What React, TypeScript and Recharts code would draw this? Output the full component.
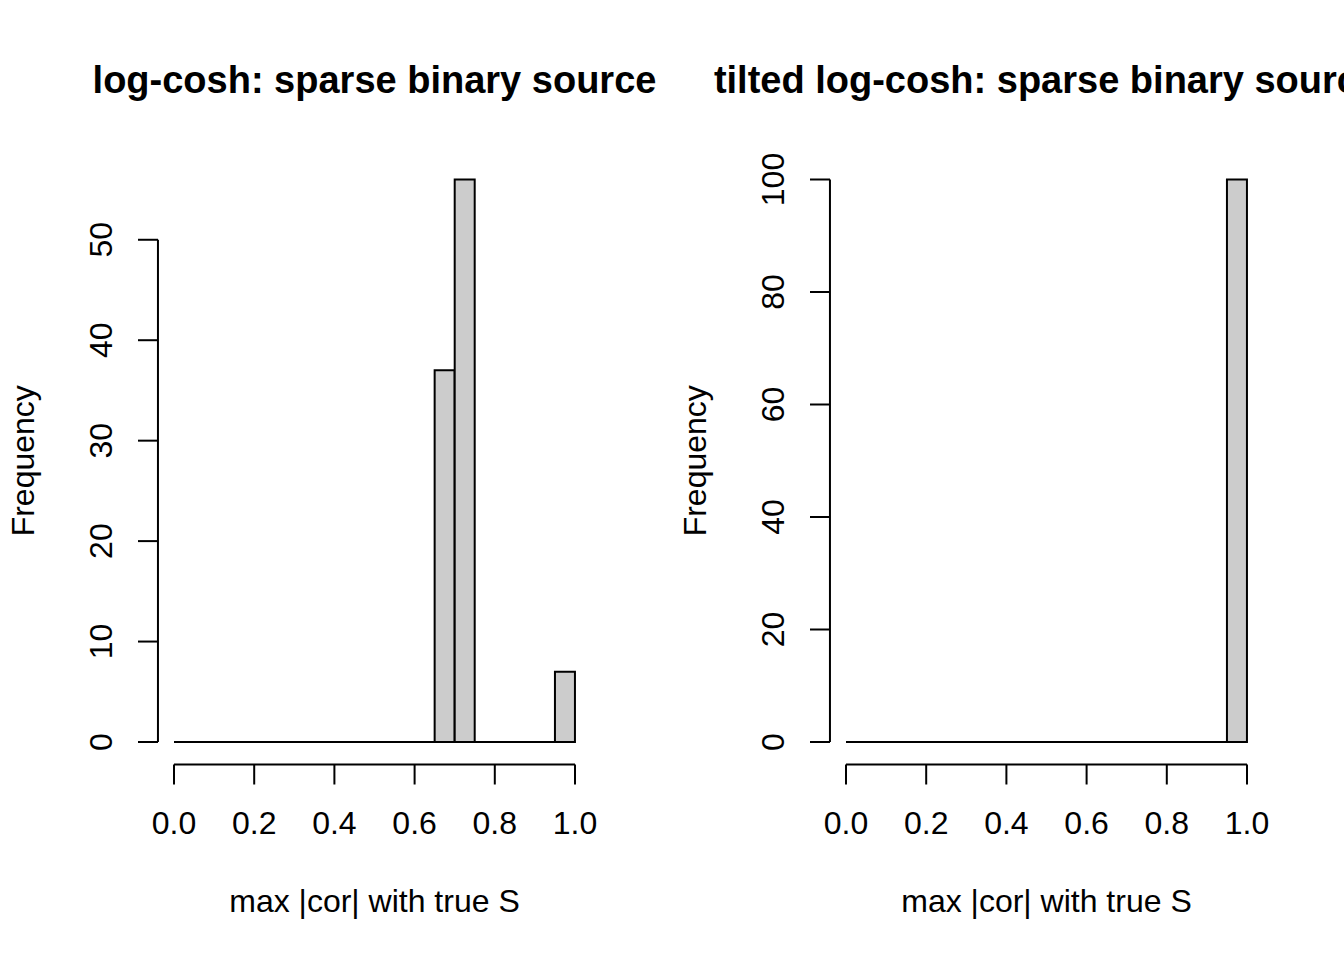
import {
  BarChart,
  Bar,
  XAxis,
  YAxis,
  ReferenceLine,
} from "recharts";

// histogram bins of width 0.05 on [0, 1]
const binStarts = [
  0, 0.05, 0.1, 0.15, 0.2, 0.25, 0.3, 0.35, 0.4, 0.45,
  0.5, 0.55, 0.6, 0.65, 0.7, 0.75, 0.8, 0.85, 0.9, 0.95,
];
const countsLogCosh = [0, 0, 0, 0, 0, 0, 0, 0, 0, 0, 0, 0, 0, 37, 56, 0, 0, 0, 0, 7];
const countsTilted = [0, 0, 0, 0, 0, 0, 0, 0, 0, 0, 0, 0, 0, 0, 0, 0, 0, 0, 0, 100];
const xTicks = [0, 0.2, 0.4, 0.6, 0.8, 1];
const yTicksLogCosh = [0, 10, 20, 30, 40, 50];
const yTicksTilted = [0, 20, 40, 60, 80, 100];

const FONT = "'Liberation Sans', Arial, Helvetica, sans-serif";
const W = 672;
const H = 960;

const YTick = (props: any) => {
  const { x, y, payload } = props;
  const tx = x - 24;
  return (
    <text
      x={tx}
      y={y}
      transform={`rotate(-90 ${tx} ${y})`}
      textAnchor="middle"
      fontSize={32}
      fontFamily={FONT}
      fill="#000"
    >
      {payload.value}
    </text>
  );
};

const XTick = (props: any) => {
  const { x, y, payload } = props;
  return (
    <text x={x} y={y + 47.5} textAnchor="middle" fontSize={32} fontFamily={FONT} fill="#000">
      {Number(payload.value).toFixed(1)}
    </text>
  );
};

interface PanelProps {
  title: string;
  counts: number[];
  yTicks: number[];
  yMax: number;
}

function Panel({ title, counts, yTicks, yMax }: PanelProps) {
  const data = binStarts.map((s, i) => ({ bin: String(s), start: s, count: counts[i] }));
  // R extends the axis ranges by 4% on each side
  const yPad = yMax * 0.04;
  const yDomain = [-yPad, yMax + yPad];
  const topTick = yTicks[yTicks.length - 1];

  return (
    <div style={{ position: "relative", width: W, height: H }}>
      <svg
        width={W}
        height={120}
        style={{ position: "absolute", left: 0, top: 0, overflow: "visible" }}
      >
        <text x={374.5} y={93} textAnchor="middle" fontSize={38} fontWeight="bold" fontFamily={FONT} fill="#000">
          {title}
        </text>
      </svg>
      <BarChart
        width={W}
        height={H}
        data={data}
        margin={{ top: 157, right: 81, left: 0, bottom: 0 }}
        barCategoryGap={0}
        barGap={0}
        style={{ position: "absolute", left: 0, top: 0 }}
      >
        <XAxis xAxisId="bins" dataKey="bin" hide height={0} padding={{ left: 16, right: 16 }} />
        <XAxis
          xAxisId="num"
          dataKey="start"
          type="number"
          domain={[0, 1]}
          allowDataOverflow
          ticks={xTicks}
          padding={{ left: 16, right: 16 }}
          height={195.5}
          axisLine={false}
          tickSize={20}
          tickLine={{ stroke: "#000", strokeWidth: 2 }}
          tick={<XTick />}
          label={(p: any) => (
            <text
              x={p.viewBox.x + p.viewBox.width / 2}
              y={912}
              textAnchor="middle"
              fontSize={32}
              fontFamily={FONT}
              fill="#000"
            >
              max |cor| with true S
            </text>
          )}
        />
        <YAxis
          width={158}
          type="number"
          domain={yDomain}
          allowDataOverflow
          ticks={yTicks}
          interval={0}
          axisLine={false}
          tickSize={20}
          tickLine={{ stroke: "#000", strokeWidth: 2 }}
          tick={<YTick />}
          label={(p: any) => {
            const cy = p.viewBox.y + p.viewBox.height / 2;
            return (
              <text
                x={34}
                y={cy}
                transform={`rotate(-90 34 ${cy})`}
                textAnchor="middle"
                fontSize={32}
                fontFamily={FONT}
                fill="#000"
              >
                Frequency
              </text>
            );
          }}
        />
        <Bar
          xAxisId="bins"
          dataKey="count"
          fill="#CCCCCC"
          stroke="#000"
          strokeWidth={2}
          isAnimationActive={false}
        />
        <ReferenceLine
          xAxisId="num"
          segment={[{ x: 0, y: 0 }, { x: 1, y: 0 }]}
          stroke="#000"
          strokeWidth={2}
          ifOverflow="visible"
        />
        <ReferenceLine
          xAxisId="num"
          segment={[{ x: 0, y: -yPad }, { x: 1, y: -yPad }]}
          stroke="#000"
          strokeWidth={2}
          ifOverflow="visible"
        />
        <ReferenceLine
          xAxisId="num"
          segment={[{ x: -0.04, y: 0 }, { x: -0.04, y: topTick }]}
          stroke="#000"
          strokeWidth={2}
          ifOverflow="visible"
        />
      </BarChart>
    </div>
  );
}

export default function App() {
  return (
    <div
      style={{
        position: "absolute",
        left: 0,
        top: 0,
        width: 1344,
        height: 960,
        background: "#fff",
        overflow: "hidden",
        display: "flex",
      }}
    >
      <Panel title="log-cosh: sparse binary source" counts={countsLogCosh} yTicks={yTicksLogCosh} yMax={56} />
      <Panel title="tilted log-cosh: sparse binary source" counts={countsTilted} yTicks={yTicksTilted} yMax={100} />
    </div>
  );
}
